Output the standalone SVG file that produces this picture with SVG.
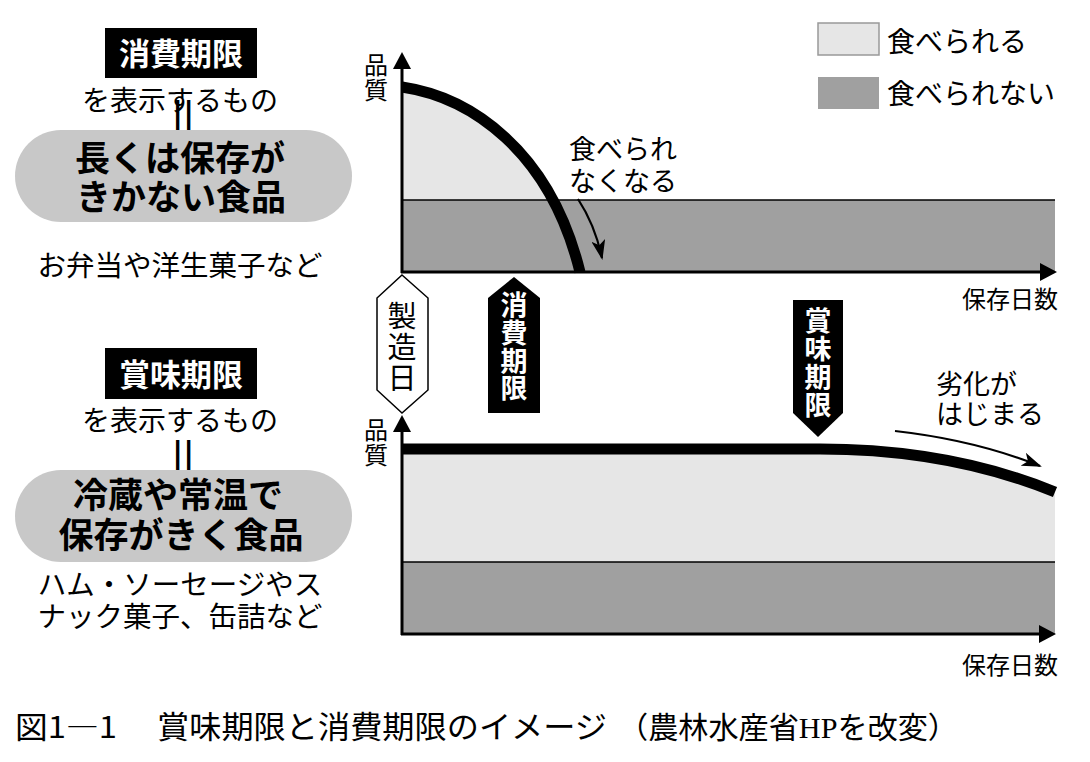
<svg xmlns="http://www.w3.org/2000/svg" width="1090" height="762" viewBox="0 0 1090 762">
<style>
  text { font-family: "Noto Sans CJK JP", "Noto Sans", sans-serif; fill: #000; }
  .b { font-weight: 700; }
  .w { fill: #fff; }
  .m { text-anchor: middle; }
  .e { text-anchor: end; }
  .v { writing-mode: vertical-rl; text-anchor: middle; }
  .light { fill: #e6e6e6; }
  .dark { fill: #a0a0a0; }
  .pill { fill: #c8c8c8; }
  .axis { stroke: #000; stroke-width: 3; fill: none; }
  .thin { stroke: #000; stroke-width: 1.5; fill: none; }
  .curve { stroke: #000; stroke-width: 11; fill: none; stroke-linecap: butt; }
  .note { stroke: #000; stroke-width: 2.2; fill: none; marker-end: url(#ah); }
</style>
<defs>
  <marker id="ah" viewBox="0 0 20 14" refX="18" refY="7" markerWidth="20" markerHeight="14" markerUnits="userSpaceOnUse" orient="auto">
    <path d="M0,0 L20,7 L0,14 L5,7 Z" fill="#000"/>
  </marker>
</defs>
<rect width="1090" height="762" fill="#fff"/>

<!-- Top chart areas -->
<g id="top-chart">
  <path class="light" d="M402,87 C470,97 550,150 580,272 L402,272 Z"/>
  <rect class="dark" x="402" y="200" width="653" height="72"/>
  <line class="thin" x1="402" y1="200" x2="1055" y2="200"/>
  <path class="curve" d="M402,87 C470,97 550,150 580,272"/>
</g>

<!-- Bottom chart areas -->
<g id="bottom-chart">
  <path class="light" d="M402,449 L820,449 Q950,449 1055,492 L1055,562 L402,562 Z"/>
  <rect class="dark" x="402" y="562" width="653" height="72"/>
  <line class="thin" x1="402" y1="562" x2="1055" y2="562"/>
  <path class="curve" d="M402,449 L820,449 Q950,449 1055,492"/>
</g>

<!-- Connectors: axes and annotation arrows -->
<g id="connectors">
  <line class="axis" x1="402" y1="273" x2="402" y2="66"/>
  <polygon points="402,52 411,69 393,69" fill="#000"/>
  <line class="axis" x1="401" y1="272" x2="1042" y2="272"/>
  <polygon points="1057,272 1040,263 1040,281" fill="#000"/>
  <line class="axis" x1="402" y1="635" x2="402" y2="430"/>
  <polygon points="402,415 411,432 393,432" fill="#000"/>
  <line class="axis" x1="401" y1="634" x2="1040" y2="634"/>
  <polygon points="1056,634 1039,625 1039,643" fill="#000"/>
  <path class="note" d="M578,199 Q595,225 602,258"/>
  <path class="note" d="M895,431 Q975,440 1040,466"/>
</g>

<!-- Legend -->
<g id="legend-edible">
  <rect x="818" y="23" width="61" height="32" fill="#e6e6e6" stroke="#999" stroke-width="1.5"/>
  <text x="887" y="52" font-size="28">食べられる</text>
</g>
<g id="legend-inedible">
  <rect x="818" y="77" width="61" height="32" fill="#a0a0a0"/>
  <text x="887" y="104" font-size="28">食べられない</text>
</g>

<!-- Axis labels -->
<g id="label-quality-top">
  <text class="v" x="376" y="78" font-size="24" letter-spacing="1">品質</text>
</g>
<g id="label-days-top">
  <text class="e" x="1058" y="308" font-size="24">保存日数</text>
</g>
<g id="label-quality-bottom">
  <text class="v" x="376" y="443" font-size="24" letter-spacing="1">品質</text>
</g>
<g id="label-days-bottom">
  <text class="e" x="1058" y="674" font-size="24">保存日数</text>
</g>

<!-- Annotations -->
<g id="note-inedible">
  <text x="569" y="159" font-size="27">食べられ<tspan x="569" y="191">なくなる</tspan></text>
</g>
<g id="note-degrade">
  <text x="936" y="394" font-size="27">劣化が<tspan x="936" y="424">はじまる</tspan></text>
</g>

<!-- Tags -->
<g id="tag-manufacture">
  <polygon points="402,275 428,298 428,390 402,413 377,390 377,298" fill="#fff" stroke="#000" stroke-width="1.5"/>
  <text class="v" x="402" y="348" font-size="29" letter-spacing="2">製造日</text>
</g>
<g id="tag-consume">
  <polygon points="514,277 540,298 540,413 488,413 488,298" fill="#000"/>
  <text class="v w b" x="514" y="347" font-size="27" letter-spacing="0.7">消費期限</text>
</g>
<g id="tag-best">
  <polygon points="793,300 843,300 843,413 818,437 793,413" fill="#000"/>
  <text class="v w b" x="818" y="363" font-size="27" letter-spacing="1">賞味期限</text>
</g>

<!-- Left: consume-by -->
<g id="left-consume">
  <rect x="105" y="28" width="152" height="50" fill="#000"/>
  <text class="m w b" x="181" y="65" font-size="31">消費期限</text>
  <text class="m" x="180" y="111" font-size="28">を表示するもの</text>
  <text class="m" x="0" y="0" font-size="48" dy="0.3em" transform="translate(179,117.5) rotate(90)">＝</text>
  <rect class="pill" x="15" y="130" width="337" height="92" rx="46"/>
  <text class="m b" x="180" y="171" font-size="35">長くは保存が<tspan x="181" y="210">きかない食品</tspan></text>
  <text class="m" x="180" y="276" font-size="28.5">お弁当や洋生菓子など</text>
</g>

<!-- Left: best-before -->
<g id="left-best">
  <rect x="105" y="348" width="152" height="51" fill="#000"/>
  <text class="m w b" x="181" y="386" font-size="31">賞味期限</text>
  <text class="m" x="180" y="431" font-size="28">を表示するもの</text>
  <text class="m" x="0" y="0" font-size="48" dy="0.3em" transform="translate(179,457.5) rotate(90)">＝</text>
  <rect class="pill" x="15" y="470" width="337" height="92" rx="46"/>
  <text class="m b" x="178" y="508" font-size="35">冷蔵や常温で<tspan x="181" y="548">保存がきく食品</tspan></text>
  <text class="m" x="180" y="595" font-size="28.5">ハム・ソーセージやス<tspan x="180" y="627">ナック菓子、缶詰など</tspan></text>
</g>

<!-- Caption -->
<g id="caption">
  <text x="15" y="738" font-size="30" textLength="102" lengthAdjust="spacingAndGlyphs">図1―1</text>
  <text x="157" y="738" font-size="31" textLength="450" lengthAdjust="spacingAndGlyphs">賞味期限と消費期限のイメージ</text>
  <text x="618" y="738" font-size="30" textLength="340" lengthAdjust="spacingAndGlyphs">（農林水産省<tspan font-family="Liberation Serif, serif">HP</tspan>を改変）</text>
</g>
</svg>
